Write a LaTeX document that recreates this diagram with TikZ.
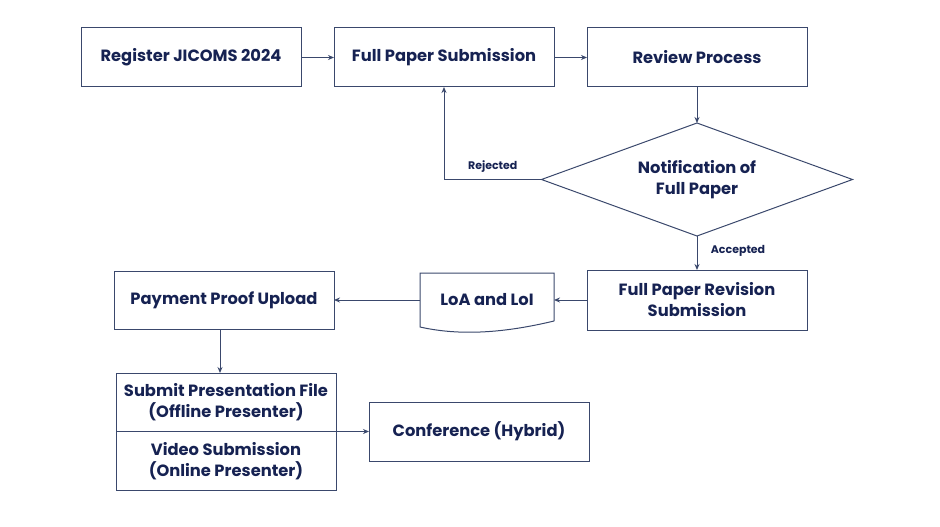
\documentclass[tikz,border=0pt]{standalone}
\usepackage{fontspec}
\setmainfont{Poppins}
\usepackage{xcolor}
\usepackage{tikz}
\usetikzlibrary{shapes.geometric, arrows.meta, positioning, calc}
\definecolor{navy}{RGB}{22,34,82}
\definecolor{linec}{RGB}{58,72,108}
\tikzstyle{stepbox} = [draw=linec, line width=1pt, outer sep=0pt, rectangle, minimum width=220pt, minimum height=59pt, text=navy, font=\bfseries\fontsize{16.3}{21}\selectfont, align=center]
\tikzstyle{arrow} = [linec, line width=1pt, -{Stealth[length=6pt,width=5pt]}]
\tikzstyle{small} = [text=navy, font=\bfseries\fontsize{11}{13}\selectfont]

\begin{document}
\begin{tikzpicture}[x=1pt, y=-1pt, node distance=33pt]
\useasboundingbox (0,0) rectangle (940,527);
% Top row
\node (reg) [stepbox] at (191,57.5) {Register JICOMS 2024};
\node (sub) [stepbox, right=33pt of reg] {Full Paper Submission};
\node (rev) [stepbox, right=33pt of sub] {Review Process};

% Decision
\node (notif) [diamond, aspect=2.75, draw=linec, line width=1pt, outer sep=0pt, minimum width=311pt, minimum height=113pt, inner sep=0pt, below=36pt of rev, text=navy, font=\bfseries\fontsize{16.3}{21}\selectfont, align=center] {Notification of\\Full Paper};
\node (revis) [stepbox, minimum height=60pt, below=34pt of notif] {Full Paper Revision\\Submission};

% Letters (document shape)
\node (loa) [outer sep=0pt, minimum width=134pt, minimum height=54pt, left=33pt of revis, text=navy, font=\bfseries\fontsize{16.3}{21}\selectfont] {LoA and LoI};
\draw [linec, line width=1pt] ($(loa.south east)+(0,-6)$) -- (loa.north east) -- (loa.north west) -- (loa.south west) .. controls +(40,9) and +(-50,12) .. ($(loa.south east)+(0,-6)$);

\node (pay) [stepbox, minimum height=58pt, left=86pt of loa] {Payment Proof Upload};

% Presentation
\node (offline) [stepbox, minimum height=58.5pt, below=44pt of pay, xshift=2pt] {Submit Presentation File\\(Offline Presenter)};
\node (online) [stepbox, minimum height=58.5pt, below=0pt of offline] {Video Submission\\(Online Presenter)};
\node (conf) [stepbox, right=33pt of offline.south east, anchor=west] {Conference (Hybrid)};

% Connectors
\draw [arrow] (reg) -- (sub);
\draw [arrow] (sub) -- (rev);
\draw [arrow] (rev) -- (notif);
\draw [arrow] (notif.west) -| node[small, pos=0.25, above=3pt] {Rejected} (sub.south);
\draw [arrow] (notif.south) -- node[small, pos=0.45, right=10pt] {Accepted} (revis.north);
\draw [arrow] (revis.west) -- (revis.west -| loa.east);
\draw [arrow] (loa.west) -- (loa.west -| pay.east);
\draw [arrow] (pay.south -| offline.north) ++(-6,0) coordinate (p) (pay.south -| p) -- (p |- offline.north);
\draw [arrow] (offline.south east) -- (conf.west);
\end{tikzpicture}
\end{document}
